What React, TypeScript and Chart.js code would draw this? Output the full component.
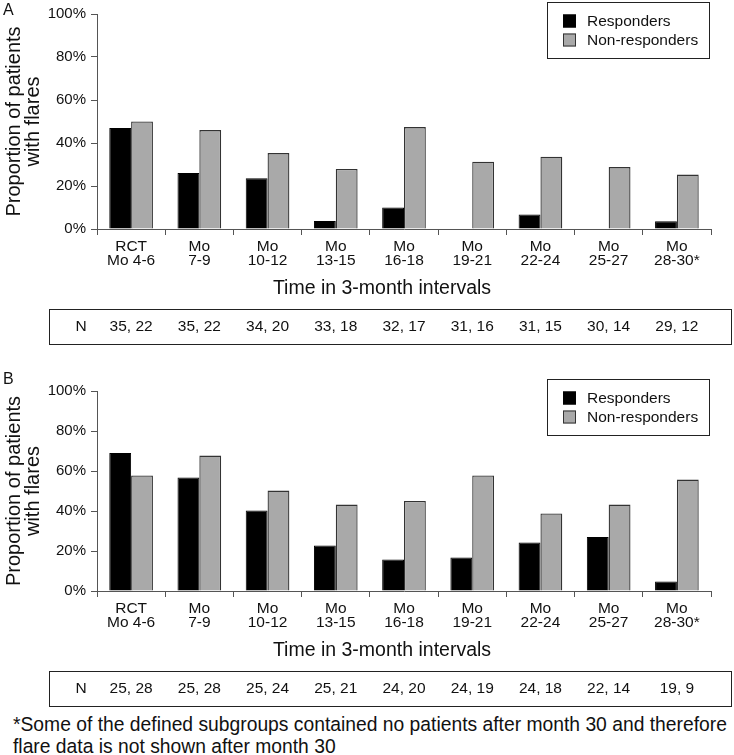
import React, { useEffect, useRef } from "react";
import { Chart, registerables } from "chart.js";

Chart.register(...registerables);

const categories: string[][] = [
  ["RCT", "Mo 4-6"],
  ["Mo", "7-9"],
  ["Mo", "10-12"],
  ["Mo", "13-15"],
  ["Mo", "16-18"],
  ["Mo", "19-21"],
  ["Mo", "22-24"],
  ["Mo", "25-27"],
  ["Mo", "28-30*"],
];
const seriesNames = ["Responders", "Non-responders"];

const respondersA = [47, 26, 23.6, 3.7, 10, 0, 6.8, 0, 3.6];
const nonRespondersA = [50, 46, 35.3, 27.9, 47.4, 31.3, 33.6, 28.8, 25.3];
const nRespondersA = [35, 35, 34, 33, 32, 31, 31, 30, 29];
const nNonRespondersA = [22, 22, 20, 18, 17, 16, 15, 14, 12];

const respondersB = [69, 56.8, 40.3, 22.8, 15.8, 16.7, 24.2, 27, 4.8];
const nonRespondersB = [57.8, 67.7, 50.2, 43.2, 45, 57.8, 38.8, 43.2, 55.7];
const nRespondersB = [25, 25, 25, 25, 24, 24, 24, 22, 19];
const nNonRespondersB = [28, 28, 24, 21, 20, 19, 18, 14, 9];

const xTitle = "Time in 3-month intervals";
const yTitle = ["Proportion of patients", "with flares"];
const nLabel = "N";
const footnoteLines = [
  "*Some of the defined subgroups contained no patients after month 30 and therefore",
  "flare data is not shown after month 30",
];

const FONT = '"Liberation Sans", Arial, Helvetica, sans-serif';
const BLACK = "#000000";
const GREY = "#a9a9a9";
const AXIS = "#555555";
const TEXT = "#111111";

type PanelProps = {
  label: string;
  labelY: number;
  top: number;
  plotTop: number;
  responders: number[];
  nonResponders: number[];
  nResp: number[];
  nNon: number[];
};

const CANVAS_W = 734;
const CANVAS_H = 350;
const PLOT_BOTTOM = 229;
const PLOT_LEFT = 97;
const PLOT_RIGHT = 711;

function Panel(props: PanelProps) {
  const ref = useRef<HTMLCanvasElement | null>(null);

  useEffect(() => {
    const canvas = ref.current;
    if (!canvas) return;

    const extras = {
      id: "extras",
      afterDraw(chart: any) {
        const ctx = chart.ctx as CanvasRenderingContext2D;
        const area = chart.chartArea;
        const xs = chart.scales.x;
        ctx.save();
        ctx.fillStyle = TEXT;

        // panel letter
        ctx.font = `16px ${FONT}`;
        ctx.textAlign = "left";
        ctx.textBaseline = "middle";
        ctx.fillText(props.label, 3, props.labelY);

        // legend box
        const boxTop = area.top - 12;
        ctx.strokeStyle = "#222";
        ctx.lineWidth = 1;
        ctx.strokeRect(547.5, Math.round(boxTop) + 0.5, 162, 56);
        const ds = chart.data.datasets;
        ds.forEach((d: any, i: number) => {
          const cy = boxTop + 19 + i * 19;
          ctx.fillStyle = d.backgroundColor;
          ctx.fillRect(563, cy - 6.5, 13, 13);
          ctx.strokeStyle = d.borderColor;
          ctx.lineWidth = 1;
          ctx.strokeRect(563.5, cy - 6, 12, 12);
          ctx.fillStyle = TEXT;
          ctx.font = `15.5px ${FONT}`;
          ctx.textAlign = "left";
          ctx.textBaseline = "middle";
          ctx.fillText(d.label, 587, cy + 0.5);
        });

        // x title
        ctx.fillStyle = TEXT;
        ctx.font = `19.5px ${FONT}`;
        ctx.textAlign = "center";
        ctx.textBaseline = "middle";
        ctx.fillText(xTitle, 382, 289);

        // N table
        ctx.strokeStyle = "#222";
        ctx.lineWidth = 1;
        ctx.strokeRect(49.5, 309.5, 682, 35);
        ctx.font = `15.5px ${FONT}`;
        ctx.fillText(nLabel, 81, 327);
        props.nResp.forEach((v, i) => {
          const x = xs.getPixelForValue(i);
          ctx.fillText(`${v}, ${props.nNon[i]}`, x, 327);
        });
        ctx.restore();
      },
    };

    const chart = new Chart(canvas, {
      type: "bar",
      data: {
        labels: categories,
        datasets: [
          {
            label: seriesNames[0],
            data: props.responders,
            backgroundColor: BLACK,
            borderColor: BLACK,
            borderWidth: 1,
          },
          {
            label: seriesNames[1],
            data: props.nonResponders,
            backgroundColor: GREY,
            borderColor: "#333333",
            borderWidth: 1.3,
          },
        ],
      },
      options: {
        responsive: false,
        animation: false,
        layout: {
          padding: { left: 0, right: CANVAS_W - PLOT_RIGHT, top: props.plotTop, bottom: 0 },
        },
        datasets: {
          bar: { categoryPercentage: 0.64, barPercentage: 1 },
        },
        plugins: {
          legend: { display: false },
          tooltip: { enabled: false },
        },
        scales: {
          x: {
            type: "category",
            offset: true,
            afterFit(scale: any) {
              scale.height = CANVAS_H - PLOT_BOTTOM;
            },
            border: { display: true, color: AXIS, width: 1 },
            grid: {
              display: true,
              offset: true,
              drawOnChartArea: false,
              drawTicks: true,
              tickLength: 6,
              color: AXIS,
            },
            ticks: {
              color: TEXT,
              padding: 5,
              maxRotation: 0,
              autoSkip: false,
              font: { family: FONT, size: 15.5, lineHeight: 0.9 },
            },
          },
          y: {
            min: 0,
            max: 100,
            afterFit(scale: any) {
              scale.width = PLOT_LEFT;
            },
            border: { display: true, color: AXIS, width: 1 },
            grid: {
              display: true,
              drawOnChartArea: false,
              drawTicks: true,
              tickLength: 6,
              color: AXIS,
            },
            ticks: {
              stepSize: 20,
              color: TEXT,
              padding: 5,
              font: { family: FONT, size: 15 },
              callback: (v: any) => `${v}%`,
            },
            title: {
              display: true,
              text: yTitle,
              color: TEXT,
              padding: { top: 5, bottom: 0 },
              font: { family: FONT, size: 20, lineHeight: 0.95 },
            },
          },
        },
      },
      plugins: [extras],
    } as any);

    return () => chart.destroy();
  }, []);

  return (
    <canvas
      ref={ref}
      width={CANVAS_W}
      height={CANVAS_H}
      style={{ position: "absolute", left: 0, top: props.top, width: CANVAS_W, height: CANVAS_H }}
    />
  );
}

export default function App() {
  return (
    <div
      style={{
        position: "absolute",
        left: 0,
        top: 0,
        width: 734,
        height: 755,
        background: "#fff",
        overflow: "hidden",
      }}
    >
      <Panel
        label="A"
        labelY={10.5}
        top={0}
        plotTop={14}
        responders={respondersA}
        nonResponders={nonRespondersA}
        nResp={nRespondersA}
        nNon={nNonRespondersA}
      />
      <Panel
        label="B"
        labelY={18}
        top={362}
        plotTop={29}
        responders={respondersB}
        nonResponders={nonRespondersB}
        nResp={nRespondersB}
        nNon={nNonRespondersB}
      />
      <div
        style={{
          position: "absolute",
          left: 13,
          top: 714,
          fontFamily: FONT,
          fontSize: 19.3,
          lineHeight: "22px",
          color: TEXT,
          whiteSpace: "nowrap",
        }}
      >
        {footnoteLines.map((l, i) => (
          <div key={i}>{l}</div>
        ))}
      </div>
    </div>
  );
}
